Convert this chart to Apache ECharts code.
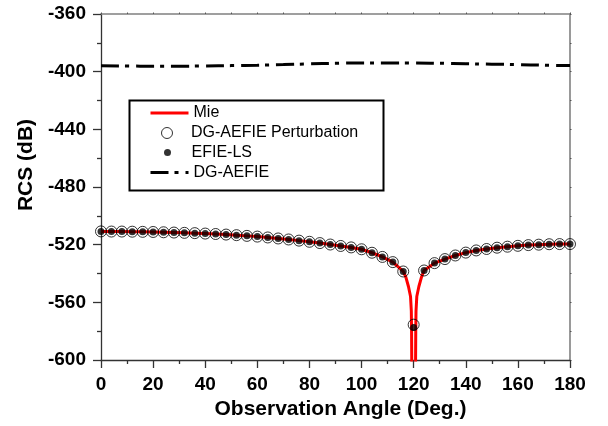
<!DOCTYPE html>
<html>
<head>
<meta charset="utf-8">
<script src="https://cdn.jsdelivr.net/npm/echarts@6/dist/echarts.min.js"></script>
<style>
  html, body { margin: 0; padding: 0; background: #fff; }
  #chart { width: 608px; height: 426px; }
</style>
</head>
<body>
<div id="chart"></div>
<script>
// Observation angles of the sampled solutions (deg)
const angles = [0, 4, 8, 12, 16, 20, 24, 28, 32, 36, 40, 44, 48, 52, 56, 60, 64, 68, 72, 76, 80, 84, 88,
  92, 96, 100, 104, 108, 112, 116, 120, 124, 128, 132, 136, 140, 144, 148, 152, 156, 160, 164, 168, 172, 176, 180];

// DG-AEFIE Perturbation RCS (dB)
const perturbation = [-510.8, -510.9, -510.9, -511.0, -511.1, -511.2, -511.4, -511.6, -511.8, -512.0, -512.3, -512.6,
  -513.0, -513.4, -513.9, -514.4, -515.0, -515.7, -516.4, -517.2, -518.0, -518.9, -519.9,
  -520.9, -521.9, -523.2, -525.6, -528.5, -532.1, -538.6, -575.5, -537.9, -532.8, -530.0, -527.5, -525.5,
  -524.0, -523.0, -522.1, -521.4, -520.8, -520.3, -520.0, -519.7, -519.6, -519.6];

// EFIE-LS RCS (dB)
const efieLs = [-510.8, -510.9, -510.9, -511.0, -511.1, -511.2, -511.4, -511.6, -511.8, -512.0, -512.3, -512.6,
  -513.0, -513.4, -513.9, -514.4, -515.0, -515.7, -516.4, -517.2, -518.0, -518.9, -519.9,
  -520.9, -521.9, -523.2, -525.6, -528.5, -532.1, -538.6, -577.4, -537.9, -532.8, -530.0, -527.5, -525.5,
  -524.0, -523.0, -522.1, -521.4, -520.8, -520.3, -520.0, -519.7, -519.6, -519.6];

// Mie series reference solution, sampled finer around the null at 120 deg
const mieAngles = [0, 4, 8, 12, 16, 20, 24, 28, 32, 36, 40, 44, 48, 52, 56, 60, 64, 68, 72, 76, 80, 84, 88,
  92, 96, 100, 104, 108, 112, 116, 117, 118, 118.8, 119.1, 119.2, 119.4, 120, 120.6, 120.8, 120.9, 121.2, 122, 123,
  124, 128, 132, 136, 140, 144, 148, 152, 156, 160, 164, 168, 172, 176, 180];
const mieValues = [-510.8, -510.9, -510.9, -511.0, -511.1, -511.2, -511.4, -511.6, -511.8, -512.0, -512.3, -512.6,
  -513.0, -513.4, -513.9, -514.4, -515.0, -515.7, -516.4, -517.2, -518.0, -518.9, -519.9,
  -520.9, -521.9, -523.2, -525.6, -528.5, -532.1, -538.6, -542.5, -549.0, -556.0, -566.0, -580.0, -640.0, -700.0,
  -640.0, -580.0, -566.0, -556.0, -549.0, -542.5,
  -537.9, -532.8, -530.0, -527.5, -525.5, -524.0, -523.0, -522.1, -521.4, -520.8, -520.3, -520.0, -519.7, -519.6, -519.6];

// DG-AEFIE (without perturbation) RCS (dB)
const dgAngles = [0, 10, 20, 30, 40, 50, 60, 70, 80, 90, 100, 110, 120, 130, 140, 150, 160, 170, 180];
const dgValues = [-395.9, -396.1, -396.2, -396.2, -396.0, -395.8, -395.5, -395.1, -394.6, -394.2, -394.0, -394.0,
  -394.0, -394.2, -394.5, -394.8, -395.1, -395.5, -395.8];

// Axis ranges and tick steps
const xTicks = { min: 0, max: 180, step: 20 };
const yTicks = { min: -600, max: -360, step: 40 };

const seriesNames = ['Mie', 'DG-AEFIE Perturbation', 'EFIE-LS', 'DG-AEFIE'];

const zip = (xs, ys) => xs.map((x, i) => [x, ys[i]]);

const FONT = '"Liberation Sans", Arial, Helvetica, sans-serif';
const legendText = { fontFamily: FONT, fontSize: 16, color: '#000' };

const chart = echarts.init(document.getElementById('chart'), null, { renderer: 'canvas' });

const option = {
  backgroundColor: '#fff',
  animation: false,
  grid: { left: 101, right: 38, top: 14, bottom: 66, containLabel: false },
  xAxis: [{
    type: 'value',
    min: xTicks.min, max: xTicks.max, interval: xTicks.step,
    name: 'Observation Angle (Deg.)',
    nameLocation: 'middle', nameGap: 31,
    nameTextStyle: { fontFamily: FONT, fontSize: 21, fontWeight: 'bold', color: '#000', padding: [0, 0, 0, 10] },
    axisLine: { show: true, onZero: false, lineStyle: { color: '#333', width: 1.3 } },
    axisTick: { show: true, inside: false, length: 8, lineStyle: { color: '#333', width: 1.3 } },
    minorTick: { show: true, splitNumber: 2, length: 4, lineStyle: { color: '#333', width: 1.3 } },
    axisLabel: { fontFamily: FONT, fontSize: 19, fontWeight: 'bold', color: '#000', margin: 15 },
    splitLine: { show: false }
  }, {
    type: 'value', position: 'top',
    min: xTicks.min, max: xTicks.max, interval: xTicks.step,
    axisLine: { show: true, onZero: false, lineStyle: { color: '#808080', width: 1.6 } },
    axisTick: { show: true, length: 1.5, lineStyle: { color: '#555', width: 1 } },
    minorTick: { show: true, splitNumber: 2, length: 1.5, lineStyle: { color: '#555', width: 1 } },
    axisLabel: { show: false },
    splitLine: { show: false }
  }],
  yAxis: [{
    type: 'value',
    min: yTicks.min, max: yTicks.max, interval: yTicks.step,
    name: 'RCS (dB)',
    nameLocation: 'middle', nameGap: 63,
    nameTextStyle: { fontFamily: FONT, fontSize: 21, fontWeight: 'bold', color: '#000', padding: [0, 0, 0, 44] },
    axisLine: { show: true, onZero: false, lineStyle: { color: '#333', width: 1.3 } },
    axisTick: { show: true, inside: false, length: 8, lineStyle: { color: '#333', width: 1.3 } },
    minorTick: { show: true, splitNumber: 2, length: 4, lineStyle: { color: '#333', width: 1.3 } },
    axisLabel: { fontFamily: FONT, fontSize: 19, fontWeight: 'bold', color: '#000', margin: 15 },
    splitLine: { show: false }
  }, {
    type: 'value', position: 'right',
    min: yTicks.min, max: yTicks.max, interval: yTicks.step,
    axisLine: { show: true, onZero: false, lineStyle: { color: '#808080', width: 1.6 } },
    axisTick: { show: true, length: 1.5, lineStyle: { color: '#555', width: 1 } },
    minorTick: { show: true, splitNumber: 2, length: 1.5, lineStyle: { color: '#555', width: 1 } },
    axisLabel: { show: false },
    splitLine: { show: false }
  }],
  legend: [{
    data: [seriesNames[0]], orient: 'vertical', left: 149, top: 105, padding: 0,
    itemWidth: 38, itemHeight: 16, textStyle: legendText,
    lineStyle: { width: 3 }, itemStyle: { opacity: 0 }, selectedMode: false
  }, {
    data: [seriesNames[1]], orient: 'vertical', left: 161, top: 125, padding: 0,
    itemWidth: 38, itemHeight: 11, textStyle: legendText,
    itemStyle: { color: 'rgba(0,0,0,0)', borderColor: '#000', borderWidth: 1 }, selectedMode: false
  }, {
    data: [seriesNames[2]], orient: 'vertical', left: 164, top: 144.5, padding: 0,
    itemWidth: 38, itemHeight: 7, textStyle: legendText, selectedMode: false
  }, {
    data: [seriesNames[3]], orient: 'vertical', left: 149, top: 164.5, padding: 0,
    itemWidth: 38, itemHeight: 16, textStyle: legendText,
    lineStyle: { width: 3 }, itemStyle: { opacity: 0 }, selectedMode: false
  }],
  graphic: [{
    type: 'rect', left: 127, top: 98, z: 10,
    shape: { width: 254, height: 90 },
    style: { fill: 'none', stroke: '#000', lineWidth: 2 }
  }],
  series: [{
    name: seriesNames[0],
    type: 'line',
    data: zip(mieAngles, mieValues),
    symbol: 'none',
    clip: true,
    lineStyle: { color: '#ff0000', width: 3 },
    itemStyle: { color: '#ff0000' },
    z: 2
  }, {
    name: seriesNames[1],
    type: 'scatter',
    data: zip(angles, perturbation),
    symbol: 'circle',
    symbolSize: 11,
    itemStyle: { color: 'rgba(0,0,0,0)', borderColor: '#000', borderWidth: 1 },
    z: 3
  }, {
    name: seriesNames[2],
    type: 'scatter',
    data: zip(angles, efieLs),
    symbol: 'circle',
    symbolSize: 7,
    itemStyle: { color: '#000' },
    z: 4
  }, {
    name: seriesNames[3],
    type: 'line',
    data: zip(dgAngles, dgValues),
    symbol: 'none',
    smooth: true,
    lineStyle: { color: '#000', width: 3, type: [18, 6, 4, 7], cap: 'butt' },
    itemStyle: { color: '#000' },
    z: 2
  }]
};

chart.setOption(option);
</script>
</body>
</html>
